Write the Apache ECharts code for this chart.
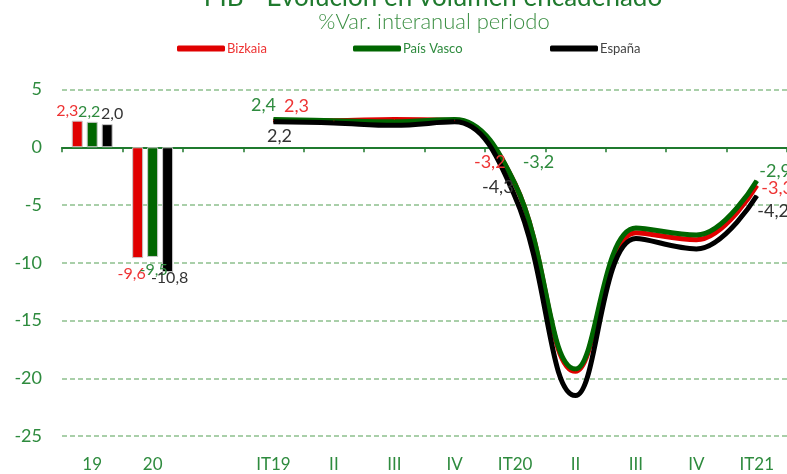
<!DOCTYPE html>
<html lang="es">
<head>
  <meta charset="UTF-8">
  <title>PIB - Evolución en volumen encadenado</title>
  <script src="https://cdn.jsdelivr.net/npm/echarts@6/dist/echarts.min.js"></script>
  <style type="text/css">
    html, body { margin: 0; padding: 0; background: #fff; }
    #main { width: 787px; height: 474px; }
  </style>
</head>
<body>
  <div id="main"></div>

  <script type="text/javascript">
    // categorias del eje X (anuales + trimestrales)
    var categories = ['19', '20', '', 'IT19', 'II', 'III', 'IV', 'IT20', 'II', 'III', 'IV', 'IT21'];
    var yTicks = [5, 0, -5, -10, -15, -20, -25];

    // tasas anuales (barras)
    var bizkaiaAnual = [2.3, -9.6];
    var paisVascoAnual = [2.2, -9.5];
    var espanaAnual = [2.0, -10.8];

    // tasas trimestrales (lineas) IT19 .. IT21
    var bizkaiaTrim = [2.3, 2.3, 2.4, 2.3, -3.2, -19.4, -7.4, -8.0, -3.3];
    var paisVascoTrim = [2.4, 2.3, 2.2, 2.4, -3.2, -19.2, -7.0, -7.6, -2.9];
    var espanaTrim = [2.2, 2.1, 1.9, 2.2, -4.3, -21.5, -7.9, -8.8, -4.2];

    var RED = '#e00000', GREEN = '#006600', BLACK = '#000000';
    var RED_TXT = '#ee3333', GREEN_TXT = '#2e8b3e', BLACK_TXT = '#333333';
    var FONT = 'Lato';

    function fmt(v) {
      return String(v.toFixed(1)).replace('.', ',');
    }

    // offsets: [etiqueta año 19, etiqueta año 20]
    function barData(vals, offsets) {
      var out = [];
      for (var i = 0; i < categories.length; i++) {
        if (i < vals.length) {
          out.push({ value: vals[i], label: { offset: offsets[i] } });
        } else {
          out.push(null);
        }
      }
      return out;
    }

    // etiquetas solo en IT19, IT20 e IT21
    function lineData(vals, labels) {
      var out = [null, null, null];
      for (var i = 0; i < vals.length; i++) {
        var item = { value: vals[i] };
        if (labels[i]) {
          item.label = {
            show: true,
            position: labels[i][0],
            offset: labels[i][1]
          };
        }
        out.push(item);
      }
      return out;
    }

    function barSeries(name, vals, color, txt, offsets) {
      return {
        name: name,
        type: 'bar',
        barWidth: 11,
        barGap: '36%',
        data: barData(vals, offsets),
        itemStyle: { color: color, borderColor: '#c8c8c8', borderWidth: 1 },
        label: {
          show: true,
          position: 'outside',
          distance: 2,
          color: txt,
          fontFamily: FONT,
          fontSize: 16,
          formatter: function (p) { return fmt(p.value); }
        },
        z: 2
      };
    }

    function lineSeries(name, vals, color, txt, labels) {
      return {
        name: name,
        type: 'line',
        smooth: 0.4,
        symbol: 'circle',
        symbolSize: 1,
        showSymbol: true,
        data: lineData(vals, labels),
        lineStyle: { color: color, width: 5 },
        itemStyle: { color: color },
        label: {
          show: false,
          color: txt,
          fontFamily: FONT,
          fontSize: 18,
          formatter: function (p) { return fmt(p.value); }
        },
        z: 3
      };
    }

    var myChart = echarts.init(document.getElementById('main'));

    function legend(name, left, txt, color) {
      return {
        left: left,
        top: 37,
        icon: 'roundRect',
        itemWidth: 48,
        itemHeight: 6,
        itemGap: 0,
        selectedMode: false,
        textStyle: { fontFamily: FONT, fontSize: 13, padding: [0, 0, 0, -3] },
        data: [{
          name: name,
          itemStyle: { color: color, borderWidth: 0 },
          textStyle: { color: txt }
        }]
      };
    }

    var option = {
      animation: false,
      title: [{
        text: 'PIB - Evolución en volumen encadenado',
        left: 428,
        textAlign: 'center',
        top: -20,
        textStyle: { fontFamily: FONT, fontWeight: 'normal', fontSize: 26, color: '#1f7a2e' }
      }, {
        text: '%Var. interanual periodo',
        left: 429,
        textAlign: 'center',
        top: 6,
        textStyle: { fontFamily: FONT, fontWeight: 300, fontSize: 22, color: '#3c8f44' }
      }],
      legend: [
        legend('Bizkaia', 172, RED_TXT, RED),
        legend('País Vasco', 348, GREEN_TXT, GREEN),
        legend('España', 545, '#444444', BLACK)
      ],
      grid: { left: 62, top: 89.5, width: 732, bottom: 38 },
      xAxis: [{
        type: 'category',
        position: 'bottom',
        data: categories,
        axisLine: { show: false, onZero: false },
        axisTick: { show: false },
        axisLabel: { color: '#2e8b3e', fontFamily: FONT, fontSize: 17, margin: 20, interval: 0 }
      }, {
        type: 'category',
        position: 'top',
        data: categories,
        axisLine: { show: true, onZero: true, lineStyle: { color: '#1f7a2e', width: 2 } },
        axisTick: { show: true, inside: true, length: 5, lineStyle: { color: '#1f7a2e', width: 1.5 } },
        axisLabel: { show: false }
      }],
      yAxis: {
        type: 'value',
        min: yTicks[yTicks.length - 1],
        max: yTicks[0],
        interval: 5,
        axisLine: { show: false },
        axisTick: { show: false },
        axisLabel: { color: '#2e8b3e', fontFamily: FONT, fontSize: 18, margin: 20 },
        splitLine: { lineStyle: { color: '#8dc08d', type: [5, 3], width: 1.5 } }
      },
      series: [
        barSeries('Bizkaia', bizkaiaAnual, RED, RED_TXT, [[-10, 0], [-6, 6]]),
        barSeries('País Vasco', paisVascoAnual, GREEN, GREEN_TXT, [[-3, 0], [1, 3]]),
        barSeries('España', espanaAnual, BLACK, BLACK_TXT, [[5, 0], [2, -4]]),
        lineSeries('Bizkaia', bizkaiaTrim, RED, RED_TXT, {
          0: ['top', [23, 0]], 4: ['left', [-4, -22]], 8: ['right', [-1, 3]]
        }),
        lineSeries('País Vasco', paisVascoTrim, GREEN, GREEN_TXT, {
          0: ['top', [-10, 0]], 4: ['right', [2, -22]], 8: ['right', [-3, -10]]
        }),
        lineSeries('España', espanaTrim, BLACK, BLACK_TXT, {
          0: ['bottom', [6, 0]], 4: ['left', [4, -10]], 8: ['right', [-5, 15]]
        })
      ]
    };

    myChart.setOption(option);
  </script>
</body>
</html>
